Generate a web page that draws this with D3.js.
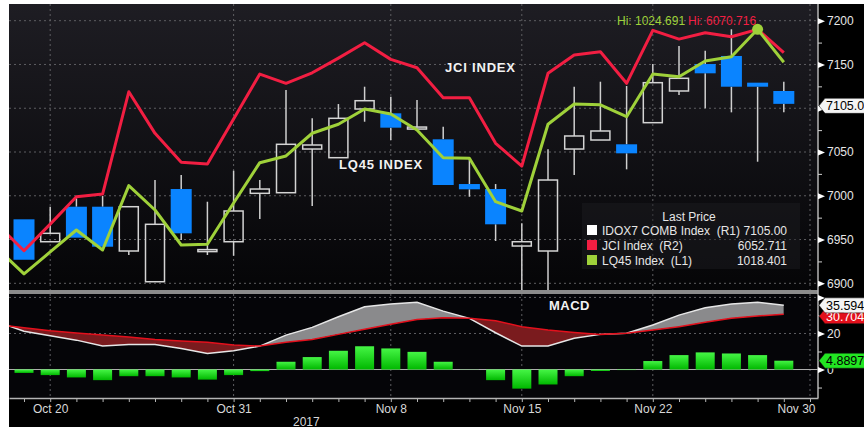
<!DOCTYPE html>
<html>
<head>
<meta charset="utf-8">
<script src="https://cdn.jsdelivr.net/npm/d3@7"></script>
<style>
  body { margin: 0; background: #fff; }
  svg { display: block; font-family: "Liberation Sans", Arial, sans-serif; }
</style>
</head>
<body>
<div id="chart"></div>
<script>
/* global d3 */

// trading days, Oct 18 is only there so the lines run in from the left edge
var days = ["2017-10-18", "2017-10-19", "2017-10-20", "2017-10-23", "2017-10-24", "2017-10-25",
  "2017-10-26", "2017-10-27", "2017-10-30", "2017-10-31", "2017-11-01", "2017-11-02",
  "2017-11-03", "2017-11-06", "2017-11-07", "2017-11-08", "2017-11-09", "2017-11-10",
  "2017-11-13", "2017-11-14", "2017-11-15", "2017-11-16", "2017-11-17", "2017-11-20",
  "2017-11-21", "2017-11-22", "2017-11-23", "2017-11-24", "2017-11-27", "2017-11-28",
  "2017-11-29", "2017-11-30"];

var axisDays = ["2017-10-20", "2017-10-31", "2017-11-08", "2017-11-15", "2017-11-22", "2017-11-30"];
var axisLabels = ["Oct 20", "Oct 31", "Nov 8", "Nov 15", "Nov 22", "Nov 30"];
var priceTicks = [6900, 6950, 7000, 7050, 7100, 7150, 7200];
var macdTicks = [0, 20, 40];
var macdLabels = ["0", "20", ""];

// IDOX7 COMB Index candles
var idxOpen = [null, 6973.1, 6947.5, 6987.5, 6987.5, 6936.9, 6901.8, 7007.7, 6937.0, 6947.5, 7002.8,
  7003.5, 7053.4, 7043.5, 7099.1, 7094.2, 7077.8, 7064.5, 7013.4, 7007.7, 6942.6,
  6936.9, 7053.4, 7063.7, 7058.8, 7083.5, 7119.7, 7150.5, 7159.7, 7129.2, 7119.7];
var idxHigh = [null, 6973.1, 6987.5, 6997.1, 6999.7, 6987.5, 7018.0, 7023.7, 6993.2, 7028.6, 7018.0,
  7120.8, 7088.5, 7104.8, 7124.6, 7113.2, 7109.4, 7078.9, 7043.1, 7013.4, 6968.5,
  7053.1, 7124.6, 7130.3, 7125.4, 7150.5, 7171.1, 7165.7, 7190.2, 7129.2, 7130.3];
var idxLow = [null, 6926.9, 6947.5, 6952.1, 6941.8, 6932.3, 6901.8, 6949.5, 6932.3, 6931.5, 6973.4,
  7003.5, 6988.3, 7043.5, 7084.6, 7063.7, 7077.0, 7012.3, 6998.9, 6948.3, 6888.0,
  6887.0, 7023.7, 7063.7, 7030.2, 7083.5, 7115.1, 7099.9, 7095.3, 7038.9, 7095.3];
var idxClose = [null, 6926.9, 6957.1, 6952.1, 6941.8, 6987.5, 6967.4, 6957.1, 6938.5, 6982.6, 7007.7,
  7058.8, 7058.0, 7088.5, 7108.6, 7077.8, 7078.5, 7012.3, 7007.4, 6967.4, 6947.5,
  7018.0, 7068.3, 7074.0, 7048.5, 7129.2, 7134.2, 7139.9, 7124.6, 7124.6, 7105.00];

var jci = [5920.2, 5900.4, 5920.9, 5941.9, 5944.0, 6022.7, 5990.7, 5968.4, 5967.1, 6001.7, 6036.3,
  6029.2, 6037.3, 6048.6, 6060.4, 6047.6, 6041.2, 6018.1, 6018.0, 5983.0, 5965.5,
  6036.9, 6050.9, 6053.5, 6029.2, 6069.9, 6063.2, 6068.1, 6065.0, 6070.716, 6052.711];
var lq45 = [982.81, 978.05, 982.24, 986.43, 982.62, 994.88, 990.24, 983.57, 983.71, 991.58, 999.26,
  1000.54, 1004.87, 1006.58, 1009.50, 1008.54, 1005.49, 1000.21, 1000.10, 991.83, 990.05,
  1006.58, 1010.45, 1010.30, 1008.03, 1016.17, 1015.65, 1018.65, 1019.47, 1024.691, 1018.401];

var macd = [26.3, 21.2, 18.7, 16.3, 13.0, 13.9, 13.9, 11.7, 8.9, 10.4, 13.0,
  19.1, 23.4, 29.3, 34.8, 36.3, 37.3, 32.4, 28.4, 20.4, 13.0,
  13.0, 17.3, 19.5, 20.1, 24.7, 30.2, 34.3, 36.3, 37.3, 35.5945];
var signal = [24.8, 23.2, 21.5, 20.2, 19.1, 18.0, 16.7, 15.8, 15.1, 13.6, 13.0,
  15.1, 16.7, 19.5, 22.3, 25.1, 27.8, 28.7, 28.4, 27.1, 23.7,
  21.9, 20.6, 19.5, 20.1, 21.9, 23.7, 26.2, 28.4, 29.7, 30.7046];
var hist = [1.5, -1.9, -3.1, -4.4, -5.9, -3.7, -3.7, -4.4, -5.6, -3.1, -0.9,
  4.3, 6.9, 10.4, 12.9, 11.7, 9.8, 4.3, 0.1, -5.9, -10.6,
  -8.3, -3.7, -0.8, -0.3, 4.7, 8.0, 9.5, 8.9, 8.0, 4.8897];

var legendNames = ["IDOX7 COMB Index  (R1)", "JCI Index  (R2)", "LQ45 Index  (L1)"];

// note: "top" is reserved on window, so plotTop
var width = 864, height = 427,
  plotLeft = 9, plotRight = 818, plotTop = 4,
  mainBottom = 290, macdTop = 294, macdBottom = 398,
  red = "#f21e42", green = "#9fd13a", blue = "#0a84ff",
  gridColor = "#5e5e62";

var n = jci.length;
var idx = d3.range(n);

var x = d3.scaleLinear().domain([0.4275, 31.305]).range([plotLeft, plotRight]);
var yPrice = d3.scaleLinear().domain([6892.35, 7219.08]).range([mainBottom, plotTop]);
var yJci = d3.scaleLinear().domain([5870.2, 6090.2]).range([mainBottom, plotTop]);
var yLq = d3.scaleLinear().domain([974.99, 1029.51]).range([mainBottom, plotTop]);
var yMacd = d3.scaleLinear().domain([-15.8, 41.9]).range([macdBottom, macdTop]);

function dayX(d) { return x(days.indexOf(d)); }

var svg = d3.select("#chart").append("svg")
    .attr("width", width)
    .attr("height", height);

var defs = svg.append("defs");

var bg = defs.append("linearGradient").attr("id", "bg")
    .attr("x1", 0).attr("y1", 0).attr("x2", 0).attr("y2", 1);
bg.append("stop").attr("offset", "0%").attr("stop-color", "#1e1d23");
bg.append("stop").attr("offset", "100%").attr("stop-color", "#050507");

var barGrad = defs.append("linearGradient").attr("id", "bar")
    .attr("x1", 0).attr("y1", 0).attr("x2", 0).attr("y2", 1);
barGrad.append("stop").attr("offset", "0%").attr("stop-color", "#45f545");
barGrad.append("stop").attr("offset", "100%").attr("stop-color", "#00b800");

defs.append("clipPath").attr("id", "clip-main")
  .append("rect").attr("x", plotLeft).attr("y", plotTop)
    .attr("width", plotRight - plotLeft).attr("height", mainBottom - plotTop);
defs.append("clipPath").attr("id", "clip-macd")
  .append("rect").attr("x", plotLeft).attr("y", macdTop)
    .attr("width", plotRight - plotLeft).attr("height", macdBottom - macdTop);

// regions above / below the signal line, used to colour the macd fill
defs.append("clipPath").attr("id", "clip-above")
  .append("path").attr("d", d3.area()
      .x(function(i) { return x(i); })
      .y0(macdTop)
      .y1(function(i) { return yMacd(signal[i]); })(idx));
defs.append("clipPath").attr("id", "clip-below")
  .append("path").attr("d", d3.area()
      .x(function(i) { return x(i); })
      .y0(macdBottom)
      .y1(function(i) { return yMacd(signal[i]); })(idx));

// backgrounds
svg.append("rect").attr("width", width).attr("height", height).attr("fill", "#fff");
svg.append("rect").attr("x", plotLeft).attr("y", plotTop)
    .attr("width", width - plotLeft).attr("height", height - plotTop).attr("fill", "#000");
svg.append("rect").attr("x", plotLeft).attr("y", plotTop)
    .attr("width", plotRight - plotLeft).attr("height", mainBottom - plotTop).attr("fill", "url(#bg)");
svg.append("rect").attr("x", plotLeft).attr("y", macdTop)
    .attr("width", plotRight - plotLeft).attr("height", macdBottom - macdTop).attr("fill", "#050508");

// grid
var grid = svg.append("g")
    .attr("stroke", gridColor)
    .attr("stroke-dasharray", "2,3");

grid.selectAll(".hgrid").data(priceTicks)
  .enter().append("line")
    .attr("x1", plotLeft).attr("x2", plotRight)
    .attr("y1", function(d) { return yPrice(d); })
    .attr("y2", function(d) { return yPrice(d); });

grid.selectAll(".mgrid").data([20, 40])
  .enter().append("line")
    .attr("x1", plotLeft).attr("x2", plotRight)
    .attr("y1", function(d) { return yMacd(d); })
    .attr("y2", function(d) { return yMacd(d); });

grid.selectAll(".vgrid").data(axisDays)
  .enter().append("line")
    .attr("x1", dayX).attr("x2", dayX)
    .attr("y1", plotTop).attr("y2", macdBottom);

// candles
var main = svg.append("g").attr("clip-path", "url(#clip-main)");

var candles = idx.filter(function(i) { return idxOpen[i] !== null; });

var candle = main.selectAll(".candle").data(candles)
  .enter().append("g");

candle.append("line")
    .attr("x1", function(i) { return x(i); })
    .attr("x2", function(i) { return x(i); })
    .attr("y1", function(i) { return yPrice(idxHigh[i]); })
    .attr("y2", function(i) { return yPrice(Math.max(idxOpen[i], idxClose[i])); })
    .attr("stroke", "#cfcfcf")
    .attr("stroke-width", 1.5);

candle.append("line")
    .attr("x1", function(i) { return x(i); })
    .attr("x2", function(i) { return x(i); })
    .attr("y1", function(i) { return yPrice(Math.min(idxOpen[i], idxClose[i])); })
    .attr("y2", function(i) { return yPrice(idxLow[i]); })
    .attr("stroke", "#cfcfcf")
    .attr("stroke-width", 1.5);

candle.append("rect")
    .attr("x", function(i) { return idxClose[i] < idxOpen[i] ? x(i) - 10.5 : x(i) - 9.5; })
    .attr("width", function(i) { return idxClose[i] < idxOpen[i] ? 21 : 19; })
    .attr("y", function(i) { return yPrice(Math.max(idxOpen[i], idxClose[i])); })
    .attr("height", function(i) {
      return Math.max(2, yPrice(Math.min(idxOpen[i], idxClose[i])) - yPrice(Math.max(idxOpen[i], idxClose[i])));
    })
    .attr("fill", function(i) { return idxClose[i] < idxOpen[i] ? blue : "none"; })
    .attr("stroke", function(i) { return idxClose[i] < idxOpen[i] ? "none" : "#d4d4d4"; })
    .attr("stroke-width", 1.5);

// index lines
main.append("path")
    .datum(idx)
    .attr("fill", "none")
    .attr("stroke", red)
    .attr("stroke-width", 3)
    .attr("stroke-linejoin", "round")
    .attr("d", d3.line()
      .x(function(i) { return x(i); })
      .y(function(i) { return yJci(jci[i]); }));

main.append("path")
    .datum(idx)
    .attr("fill", "none")
    .attr("stroke", green)
    .attr("stroke-width", 3)
    .attr("stroke-linejoin", "round")
    .attr("d", d3.line()
      .x(function(i) { return x(i); })
      .y(function(i) { return yLq(lq45[i]); }));

var hiLq = d3.maxIndex(lq45), hiJci = d3.maxIndex(jci);

main.append("circle")
    .attr("cx", x(hiLq))
    .attr("cy", yLq(lq45[hiLq]))
    .attr("r", 5.5)
    .attr("fill", green);

svg.append("text")
    .attr("x", 617).attr("y", 25)
    .attr("font-size", 12)
    .attr("fill", green)
    .text("Hi: " + lq45[hiLq].toFixed(3));
svg.append("text")
    .attr("x", 688).attr("y", 25)
    .attr("font-size", 12)
    .attr("fill", red)
    .text("Hi: " + jci[hiJci].toFixed(3));

svg.append("text")
    .attr("x", 445).attr("y", 72)
    .attr("font-size", 13).attr("font-weight", "bold")
    .attr("letter-spacing", 0.8)
    .attr("fill", "#f2f2f2")
    .text("JCI INDEX");
svg.append("text")
    .attr("x", 339).attr("y", 168.5)
    .attr("font-size", 13).attr("font-weight", "bold")
    .attr("letter-spacing", 0.8)
    .attr("fill", "#f2f2f2")
    .text("LQ45 INDEX");

// legend
var legend = svg.append("g");
legend.append("rect")
    .attr("x", 582).attr("y", 203)
    .attr("width", 218).attr("height", 66)
    .attr("fill", "#1c1c20").attr("opacity", 0.5);
legend.append("text")
    .attr("x", 689).attr("y", 220.5)
    .attr("text-anchor", "middle")
    .attr("font-size", 12)
    .attr("fill", "#e6e6e6")
    .text("Last Price");

var legendValues = [idxClose[n - 1].toFixed(2), jci[n - 1].toFixed(3), lq45[n - 1].toFixed(3)];
var legendColors = ["#ffffff", red, green];

var row = legend.selectAll(".row").data(legendNames)
  .enter().append("g")
    .attr("transform", function(d, i) { return "translate(0," + (230 + i * 15) + ")"; });
row.append("rect")
    .attr("x", 587).attr("y", -5)
    .attr("width", 10).attr("height", 10)
    .attr("fill", function(d, i) { return legendColors[i]; });
row.append("text")
    .attr("x", 602).attr("y", 4.5)
    .attr("font-size", 12)
    .attr("fill", "#e6e6e6")
    .style("white-space", "pre")
    .text(function(d) { return d; });
row.append("text")
    .attr("x", 787).attr("y", 4.5)
    .attr("text-anchor", "end")
    .attr("font-size", 12)
    .attr("fill", "#e6e6e6")
    .text(function(d, i) { return legendValues[i]; });

// separator between panels
svg.append("rect")
    .attr("x", plotLeft).attr("y", mainBottom)
    .attr("width", plotRight - plotLeft).attr("height", macdTop - mainBottom)
    .attr("fill", "#8c8c8c");

// macd panel
var lower = svg.append("g").attr("clip-path", "url(#clip-macd)");

lower.append("line")
    .attr("x1", plotLeft).attr("x2", plotRight)
    .attr("y1", yMacd(0)).attr("y2", yMacd(0))
    .attr("stroke", "#b0b0b0");

lower.selectAll(".bar").data(idx)
  .enter().append("rect")
    .attr("x", function(i) { return x(i) - 9.5; })
    .attr("width", 19)
    .attr("y", function(i) { return Math.min(yMacd(hist[i]), yMacd(0)); })
    .attr("height", function(i) { return Math.abs(yMacd(hist[i]) - yMacd(0)); })
    .attr("fill", "url(#bar)");

var between = d3.area()
    .x(function(i) { return x(i); })
    .y0(function(i) { return yMacd(signal[i]); })
    .y1(function(i) { return yMacd(macd[i]); });

lower.append("g").attr("clip-path", "url(#clip-above)")
  .append("path").datum(idx)
    .attr("fill", "#8a8a8c")
    .attr("d", between);
lower.append("g").attr("clip-path", "url(#clip-below)")
  .append("path").datum(idx)
    .attr("fill", "#7a1b1e")
    .attr("d", between);

lower.append("path").datum(idx)
    .attr("fill", "none")
    .attr("stroke", "#e6e6e6")
    .attr("stroke-width", 1.5)
    .attr("d", d3.line()
      .x(function(i) { return x(i); })
      .y(function(i) { return yMacd(macd[i]); }));
lower.append("path").datum(idx)
    .attr("fill", "none")
    .attr("stroke", "#e3101c")
    .attr("stroke-width", 1.5)
    .attr("d", d3.line()
      .x(function(i) { return x(i); })
      .y(function(i) { return yMacd(signal[i]); }));

svg.append("text")
    .attr("x", 549).attr("y", 310)
    .attr("font-size", 13).attr("font-weight", "bold")
    .attr("letter-spacing", 0.5)
    .attr("fill", "#f2f2f2")
    .text("MACD");

// right axes
svg.append("line")
    .attr("x1", plotRight).attr("x2", plotRight)
    .attr("y1", plotTop).attr("y2", macdBottom)
    .attr("stroke", "#b4b4b4")
    .attr("stroke-width", 1.5);

function styleAxis(g) {
  g.select(".domain").remove();
  g.selectAll("text").attr("fill", "#e6e6e6").attr("font-size", 12)
      .attr("font-family", "Liberation Sans, Arial, sans-serif");
  g.selectAll(".tick line").attr("stroke", "#d0d0d0");
}

var priceAxis = svg.append("g")
    .attr("transform", "translate(" + plotRight + ",0)")
    .call(d3.axisRight(yPrice).tickValues(priceTicks).tickSize(0).tickPadding(9)
      .tickFormat(d3.format("d")))
    .call(styleAxis);
priceAxis.selectAll(".tick").append("path")
    .attr("d", "M0,-3L7,0L0,3Z").attr("fill", "#fff");
svg.append("g")
    .attr("transform", "translate(" + plotRight + ",0)")
    .call(d3.axisRight(yPrice).tickValues(d3.range(6925, 7200, 50)).tickSize(4).tickFormat(""))
    .call(styleAxis);

var macdAxis = svg.append("g")
    .attr("transform", "translate(" + plotRight + ",0)")
    .call(d3.axisRight(yMacd).tickValues(macdTicks).tickSize(0).tickPadding(9)
      .tickFormat(function(d, i) { return macdLabels[i]; }))
    .call(styleAxis);
macdAxis.selectAll(".tick").append("path")
    .attr("d", "M0,-3L7,0L0,3Z").attr("fill", "#fff");
svg.append("g")
    .attr("transform", "translate(" + plotRight + ",0)")
    .call(d3.axisRight(yMacd).tickValues([-10, 10, 30]).tickSize(4).tickFormat(""))
    .call(styleAxis);

// last value tags
function tag(yc, label, fill, color) {
  var h = 15, x0 = plotRight + 1;
  var g = svg.append("g");
  g.append("path")
      .attr("d", "M" + x0 + "," + yc + "L" + (x0 + 6) + "," + (yc - h / 2) + "L" + (width + 4) + "," + (yc - h / 2) +
        "L" + (width + 4) + "," + (yc + h / 2) + "L" + (x0 + 6) + "," + (yc + h / 2) + "Z")
      .attr("fill", fill)
      .attr("stroke", "#111")
      .attr("stroke-width", 0.5);
  g.append("text")
      .attr("x", x0 + 7).attr("y", yc + 4.5)
      .attr("font-size", 12.5)
      .attr("fill", color)
      .text(label);
}

tag(yPrice(idxClose[n - 1]) + 2, idxClose[n - 1].toFixed(2), "#f4f4f4", "#000");
tag(yMacd(signal[n - 1]) + 2, signal[n - 1].toFixed(4), "#e3101c", "#fff");
tag(yMacd(macd[n - 1]), macd[n - 1].toFixed(4), "#f4f4f4", "#000");
tag(yMacd(hist[n - 1]), hist[n - 1].toFixed(4), "#22e622", "#000");

// bottom axis
var ticksAxis = svg.append("g")
    .attr("transform", "translate(0," + macdBottom + ")")
    .call(d3.axisBottom(x).tickValues(d3.range(1, days.length)).tickSize(4).tickSizeOuter(0).tickFormat(""));
ticksAxis.select(".domain").attr("stroke", "#b4b4b4").attr("stroke-width", 1.5);
ticksAxis.selectAll(".tick line").attr("stroke", "#b4b4b4");

var labelAxis = svg.append("g")
    .attr("transform", "translate(0," + macdBottom + ")")
    .call(d3.axisBottom(x)
      .tickValues(axisDays.map(function(d) { return days.indexOf(d); }))
      .tickFormat(function(d, i) { return axisLabels[i]; })
      .tickSize(0).tickPadding(6))
    .call(styleAxis);
labelAxis.selectAll(".tick text").attr("fill", "#d8d8d8");
labelAxis.selectAll(".tick:last-of-type text")
    .attr("text-anchor", "end")
    .attr("dx", 5);

svg.append("text")
    .attr("x", 293).attr("y", 426)
    .attr("font-size", 12)
    .attr("fill", "#d8d8d8")
    .text("2017");
</script>
</body>
</html>
